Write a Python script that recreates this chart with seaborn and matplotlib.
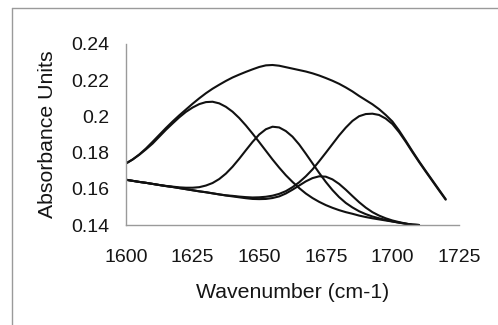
import matplotlib
matplotlib.use("Agg")
import matplotlib.pyplot as plt
import matplotlib.ticker as mticker
from matplotlib.lines import Line2D
import seaborn as sns
import pandas as pd

# ---- data (absorbance vs wavenumber, cm-1) ----
wn_full = [1600.0, 1602.5, 1605.0, 1607.5, 1610.0, 1612.5, 1615.0, 1617.5,
           1620.0, 1622.5, 1625.0, 1627.5, 1630.0, 1632.5, 1635.0, 1637.5,
           1640.0, 1642.5, 1645.0, 1647.5, 1650.0, 1652.5, 1655.0, 1657.5,
           1660.0, 1662.5, 1665.0, 1667.5, 1670.0, 1672.5, 1675.0, 1677.5,
           1680.0, 1682.5, 1685.0, 1687.5, 1690.0, 1692.5, 1695.0, 1697.5,
           1700.0, 1702.5, 1705.0, 1707.5, 1710.0, 1712.5, 1715.0, 1717.5,
           1720.0]
wn_comp = wn_full[:45]  # the three tailing components end at 1710

envelope = [0.1740, 0.1762, 0.1790, 0.1823, 0.1860, 0.1898, 0.1936, 0.1972,
            0.2006, 0.2038, 0.2070, 0.2100, 0.2128, 0.2153, 0.2175, 0.2196,
            0.2215, 0.2231, 0.2246, 0.2260, 0.2273, 0.2282, 0.2284, 0.2280,
            0.2272, 0.2264, 0.2256, 0.2248, 0.2238, 0.2226, 0.2212, 0.2197,
            0.2180, 0.2160, 0.2138, 0.2113, 0.2090, 0.2067, 0.2040, 0.2008,
            0.1972, 0.1922, 0.1866, 0.1808, 0.1752, 0.1699, 0.1647, 0.1595,
            0.1543]
band_1632 = [0.1740, 0.1762, 0.1788, 0.1818, 0.1850, 0.1888, 0.1926, 0.1961,
             0.1995, 0.2025, 0.2049, 0.2068, 0.2079, 0.2081, 0.2072, 0.2053,
             0.2026, 0.1991, 0.1950, 0.1905, 0.1858, 0.1810, 0.1762, 0.1717,
             0.1675, 0.1638, 0.1604, 0.1574, 0.1549, 0.1528, 0.1510, 0.1495,
             0.1482, 0.1471, 0.1462, 0.1452, 0.1444, 0.1437, 0.1431, 0.1425,
             0.1419, 0.1413, 0.1407, 0.1402, 0.1400]
band_1656 = [0.1650, 0.1644, 0.1638, 0.1633, 0.1627, 0.1621, 0.1616, 0.1612,
             0.1608, 0.1606, 0.1606, 0.1609, 0.1618, 0.1632, 0.1654, 0.1684,
             0.1722, 0.1766, 0.1813, 0.1859, 0.1900, 0.1929, 0.1943, 0.1939,
             0.1919, 0.1888, 0.1845, 0.1794, 0.1741, 0.1688, 0.1638, 0.1593,
             0.1554, 0.1522, 0.1497, 0.1476, 0.1460, 0.1447, 0.1437, 0.1428,
             0.1420, 0.1413, 0.1407, 0.1402, 0.1400]
band_1674 = [0.1650, 0.1644, 0.1638, 0.1633, 0.1627, 0.1621, 0.1615, 0.1610,
             0.1604, 0.1598, 0.1592, 0.1586, 0.1581, 0.1575, 0.1569, 0.1563,
             0.1558, 0.1553, 0.1548, 0.1544, 0.1543, 0.1544, 0.1549, 0.1558,
             0.1574, 0.1595, 0.1618, 0.1641, 0.1659, 0.1669, 0.1667, 0.1652,
             0.1627, 0.1595, 0.1560, 0.1526, 0.1496, 0.1471, 0.1452, 0.1437,
             0.1425, 0.1416, 0.1408, 0.1402, 0.1400]
band_1692 = [0.1650, 0.1644, 0.1638, 0.1633, 0.1627, 0.1621, 0.1615, 0.1610,
             0.1604, 0.1598, 0.1592, 0.1586, 0.1581, 0.1575, 0.1569, 0.1564,
             0.1561, 0.1557, 0.1554, 0.1552, 0.1553, 0.1556, 0.1562, 0.1572,
             0.1587, 0.1609, 0.1636, 0.1669, 0.1707, 0.1752, 0.1799, 0.1847,
             0.1895, 0.1938, 0.1975, 0.2001, 0.2013, 0.2015, 0.2008, 0.1988,
             0.1958, 0.1913, 0.1860, 0.1803, 0.1748, 0.1695, 0.1643, 0.1591,
             0.1540]

x_ticks = [1600, 1625, 1650, 1675, 1700, 1725]
y_ticks = [0.14, 0.16, 0.18, 0.20, 0.22, 0.24]
x_label = "Wavenumber (cm-1)"
y_label = "Absorbance Units"

curves = [
    ("envelope", wn_full, envelope),
    ("band 1632", wn_comp, band_1632),
    ("band 1656", wn_comp, band_1656),
    ("band 1674", wn_comp, band_1674),
    ("band 1692", wn_full, band_1692),
]
frames = []
for name, xs, ys in curves:
    n = min(len(xs), len(ys))
    frames.append(pd.DataFrame({"wavenumber": xs[:n], "absorbance": ys[:n],
                                "curve": name}))
df = pd.concat(frames, ignore_index=True)

# ---- plotting ----
sns.set_theme(style="white")
plt.rcParams["font.family"] = ["Liberation Sans", "DejaVu Sans"]

fig = plt.figure(figsize=(4.98, 3.25), dpi=100)
ax = fig.add_axes([126 / 498, 1 - 225 / 325, 333 / 498, 181 / 325])

names = [c[0] for c in curves]
sns.lineplot(data=df, x="wavenumber", y="absorbance", hue="curve",
             hue_order=names, palette=["#111111"] * len(names),
             units="curve", estimator=None, sort=False, legend=False,
             linewidth=1.5, ax=ax)

ax.set_xlim(1600, 1725)
ax.set_ylim(0.14, 0.24)
ax.set_xticks(x_ticks)
ax.set_yticks(y_ticks)
ax.yaxis.set_major_formatter(mticker.FuncFormatter(lambda v, p: f"{v:g}"))

for side in ("top", "right"):
    ax.spines[side].set_visible(False)
for side in ("left", "bottom"):
    ax.spines[side].set_color("#9a9a9a")
    ax.spines[side].set_linewidth(1.0)

ax.tick_params(axis="both", which="major", direction="out", length=4,
               width=1.0, color="#9a9a9a", labelsize=14, labelcolor="#151515")
ax.tick_params(axis="x", pad=13)
ax.tick_params(axis="y", pad=8)
ax.grid(False)

ax.set_xlabel(x_label, fontsize=15.3, color="#151515", va="center", ha="center")
ax.set_ylabel(y_label, fontsize=15.3, color="#151515", va="center", ha="center")
ax.xaxis.set_label_coords(0.5, (225 - 292) / 181)
ax.yaxis.set_label_coords((48 - 126) / 333, 0.5)

# chart-area border (left and top edges visible in the reference)
fig.add_artist(Line2D([11.5 / 498, 11.5 / 498], [0, 1 - 8 / 325],
                      transform=fig.transFigure, color="#9a9a9a", lw=1.0))
fig.add_artist(Line2D([11.5 / 498, 1], [1 - 8 / 325, 1 - 8 / 325],
                      transform=fig.transFigure, color="#9a9a9a", lw=1.0))

fig.savefig("out.png", dpi=100)
